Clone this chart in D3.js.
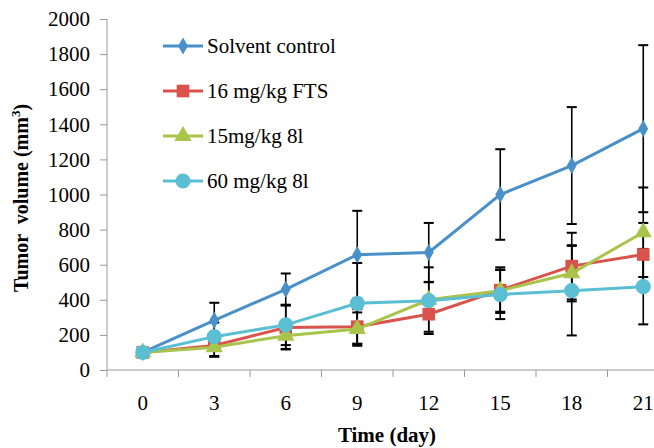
<!DOCTYPE html>
<html lang="en">
<head>
<meta charset="UTF-8">
<title>tumor volume</title>
<script src="https://cdn.jsdelivr.net/npm/d3@7"></script>
<style>
    body{ margin:0; background:#fff; }
    .axis path, .axis line{ stroke:#999; }
</style>
</head>
<body>
<svg id="chart" width="654" height="448"></svg>
<script>
    // data
    let days = [0, 3, 6, 9, 12, 15, 18, 21]
    let seriesNames = ["Solvent control", "16 mg/kg FTS", "15mg/kg 8l", "60 mg/kg 8l"]
    let solvent = [100, 283, 460, 657, 670, 1000, 1165, 1375]
    let solventErr = [0, 100, 90, 250, 168, 258, 333, 476]
    let fts16 = [100, 140, 242, 247, 318, 455, 592, 658]
    let fts16Err = [0, 60, 125, 100, 100, 130, 190, 180]
    let l8_15 = [100, 130, 195, 233, 400, 452, 551, 785]
    let l8_15Err = [0, 55, 75, 95, 100, 120, 160, 255]
    let l8_60 = [100, 190, 257, 380, 395, 430, 452, 475]
    let l8_60Err = [0, 80, 115, 230, 190, 140, 255, 215]
    let yTicks = [0, 200, 400, 600, 800, 1000, 1200, 1400, 1600, 1800, 2000]

    let colors = ["#4a90c8", "#d9534c", "#a9c44a", "#5bbfd3"]
    let symbols = [d3.symbolDiamond, d3.symbolSquare, d3.symbolTriangle, d3.symbolCircle]
    let symSizes = [85, 160, 130, 180]
    let serif = "'Liberation Serif', serif"

    let series = [solvent, fts16, l8_15, l8_60]
    let errors = [solventErr, fts16Err, l8_15Err, l8_60Err]

    let svg = d3.select("#chart")

    // plot area (right side is cut off like the original)
    let x = d3.scaleBand().domain(days).range([107, 679])
    let y = d3.scaleLinear().domain([0, 2000]).range([370, 19])

    // y axis
    let yAxis = svg.append("g")
        .attr("class", "axis")
        .attr("transform", "translate(107,0)")
        .call(d3.axisLeft(y).tickValues(yTicks).tickSize(7).tickPadding(10).tickFormat(d3.format("d")))
    yAxis.select(".domain").attr("d", "M0," + y(2000) + "V" + y(0))
    yAxis.selectAll("text")
        .style("font-family", serif).style("font-size", "21px").attr("fill", "#000")

    // x axis: ticks between categories
    let xAxis = svg.append("g")
        .attr("class", "axis")
        .attr("transform", "translate(0,370)")
    xAxis.append("line").attr("x1", 107).attr("x2", 654).attr("y1", 0).attr("y2", 0)
    xAxis.selectAll(".tk").data(days).enter().append("line")
        .attr("x1", d => x(d)).attr("x2", d => x(d))
        .attr("y1", 0).attr("y2", 7)
    xAxis.selectAll(".lbl").data(days).enter().append("text")
        .attr("x", d => x(d) + x.bandwidth() / 2)
        .attr("y", 40)
        .attr("text-anchor", "middle")
        .style("font-family", serif).style("font-size", "21px")
        .text(d => d)

    // axis titles
    svg.append("text")
        .attr("x", 387).attr("y", 442)
        .attr("text-anchor", "middle")
        .style("font-family", serif).style("font-size", "21px").style("font-weight", "bold")
        .text("Time (day)")

    let yt = svg.append("text")
        .attr("transform", "translate(28,198) rotate(-90)")
        .attr("text-anchor", "middle")
        .style("font-family", serif).style("font-size", "20px").style("font-weight", "bold")
        .style("white-space", "pre")
    yt.append("tspan").text("Tumor  volume (mm")
    yt.append("tspan").style("font-size", "13px").attr("dy", -8).text("3")
    yt.append("tspan").attr("dy", 8).text(")")

    let cx = d => x(d) + x.bandwidth() / 2

    // error bars
    series.forEach(function (vals, i) {
        let g = svg.append("g").attr("stroke", "#000").attr("stroke-width", 1.6)
        days.forEach(function (d, j) {
            let e = errors[i][j]
            if (!e) return
            let top = y(vals[j] + e), bot = y(vals[j] - e)
            g.append("line").attr("x1", cx(d)).attr("x2", cx(d)).attr("y1", top).attr("y2", bot)
            g.append("line").attr("x1", cx(d) - 5).attr("x2", cx(d) + 5).attr("y1", top).attr("y2", top).attr("stroke-width", 2)
            g.append("line").attr("x1", cx(d) - 5).attr("x2", cx(d) + 5).attr("y1", bot).attr("y2", bot).attr("stroke-width", 2)
        })
    })

    // lines and markers
    let line = d3.line().x((d, j) => cx(days[j])).y(d => y(d))
    series.forEach(function (vals, i) {
        svg.append("path")
            .datum(vals)
            .attr("fill", "none")
            .attr("stroke", colors[i])
            .attr("stroke-width", 3)
            .attr("d", line)
        svg.append("g").selectAll("path").data(vals).enter().append("path")
            .attr("transform", (d, j) => "translate(" + cx(days[j]) + "," + y(d) + ")")
            .attr("d", d3.symbol().type(symbols[i]).size(symSizes[i]))
            .attr("fill", colors[i])
    })

    // legend
    let legendY = [46, 91, 136, 181]
    seriesNames.forEach(function (name, i) {
        let g = svg.append("g").attr("transform", "translate(0," + legendY[i] + ")")
        g.append("line").attr("x1", 163).attr("x2", 203).attr("y1", 0).attr("y2", 0)
            .attr("stroke", colors[i]).attr("stroke-width", 3)
        g.append("path").attr("transform", "translate(183,0)")
            .attr("d", d3.symbol().type(symbols[i]).size(symSizes[i]))
            .attr("fill", colors[i])
        g.append("text").attr("x", 207).attr("y", 7)
            .style("font-family", serif).style("font-size", "21px").text(name)
    })
</script>
</body>
</html>
